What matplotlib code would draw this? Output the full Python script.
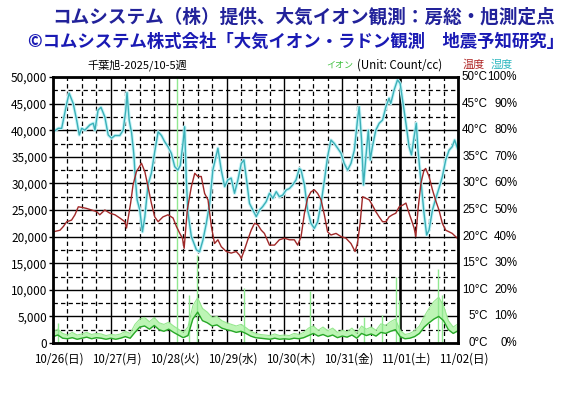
import numpy as np
import matplotlib
matplotlib.use("Agg")
import matplotlib.pyplot as plt
from matplotlib.transforms import ScaledTranslation

plt.rcParams['font.family'] = ['Noto Sans CJK JP', 'DejaVu Sans']

# ---------------- data ----------------
day_labels = ["10/26(日)", "10/27(月)", "10/28(火)", "10/29(水)", "10/30(木)",
              "10/31(金)", "11/01(土)", "11/02(日)"]

# humidity (%), time in hours from 10/26 00:00
hum_t = [0.1, 2.2, 3.6, 5.7, 6.7, 8.4, 9.8, 10.9, 11.9, 13.2, 15.3, 16.7, 17.4, 18.7, 19.9,
         21.5, 22.9, 24.3, 25.7, 27.7, 29.1, 30.2, 30.7, 31.6, 32.6, 33.5, 34.2, 34.9, 36.0,
         37.1, 38.1, 38.8, 39.4, 40.8, 42.2, 43.6, 45.0, 46.3, 47.7, 49.1, 50.5, 51.8, 52.8,
         53.9, 54.6, 55.3, 56.0, 57.4, 59.5, 60.8, 62.2, 63.6, 65.0, 66.3, 68.4, 69.8, 71.2,
         72.5, 73.9, 75.3, 76.7, 78.1, 79.2, 80.2, 81.5, 82.9, 84.3, 85.7, 87.0, 88.4, 89.8,
         91.2, 92.6, 93.9, 95.3, 96.7, 98.1, 99.4, 100.8, 102.2, 102.9, 104.3, 105.6, 107.0,
         108.4, 109.8, 111.2, 112.6, 113.9, 115.3, 116.7, 118.1, 119.5, 120.8, 122.2, 123.6,
         125.0, 126.3, 127.0, 128.0, 128.8, 129.8, 130.8, 131.6, 132.5, 133.9, 135.3, 136.7,
         138.1, 139.4, 140.1, 141.5, 142.9, 144.0, 145.0, 146.4, 147.7, 148.7, 149.8, 150.7,
         151.4, 152.6, 153.9, 155.0, 156.0, 157.4, 158.8, 160.1, 161.5, 162.9, 164.3, 165.6,
         166.6, 167.8]
hum_v = [79.4, 80.7, 80.7, 90.1, 93.9, 90.0, 83.8, 78.2, 80.7, 80.0, 82.0, 82.6, 80.0, 87.6, 88.6,
         85.0, 78.2, 77.0, 78.0, 78.0, 80.0, 87.6, 94.1, 83.8, 79.0, 71.3, 61.3, 53.8, 50.0,
         41.8, 47.5, 53.8, 59.4, 63.8, 71.9, 79.4, 78.0, 75.7, 73.8, 71.3, 66.3, 65.0, 66.8,
         75.0, 81.3, 61.3, 48.8, 40.0, 35.0, 34.3, 38.7, 45.0, 52.5, 65.0, 73.2, 65.0, 58.8,
         61.3, 62.0, 56.3, 61.3, 67.5, 68.8, 62.0, 52.5, 50.0, 47.5, 50.0, 51.3, 53.1, 56.3,
         54.4, 56.9, 55.0, 55.6, 57.5, 58.1, 59.4, 61.3, 65.6, 65.0, 59.4, 50.0, 45.0,
         43.1, 45.6, 52.5, 61.3, 70.0, 76.3, 75.0, 73.2, 71.3, 67.5, 65.0, 67.5,
         72.5, 83.8, 88.8, 76.3, 59.4, 70.0, 80.0, 68.8, 73.8, 80.0, 82.6, 83.8,
         88.8, 92.0, 90.0, 95.1, 98.9, 97.6, 91.3, 82.6, 73.8, 70.7, 77.6, 82.6,
         72.5, 61.3, 48.8, 40.6, 42.5, 50.0, 54.4, 58.1, 62.5, 68.8, 72.5, 73.8,
         76.3, 73.2]

# temperature (deg C)
temp_t = [0.1, 2.9, 4.3, 5.7, 7.7, 9.1, 10.5, 11.9, 13.9, 16.0, 18.1, 19.4, 21.5, 23.6, 25.7,
          27.7, 29.8, 30.5, 31.2, 32.2, 33.2, 34.6, 36.7, 38.1, 39.4, 40.8, 42.2, 43.6, 45.6,
          47.7, 49.8, 51.2, 52.6, 53.7, 54.4, 55.7, 57.4, 58.8, 60.1, 61.5, 62.9, 64.3, 65.7,
          67.0, 68.4, 69.8, 71.9, 73.9, 76.0, 77.4, 78.1, 79.4, 80.8, 82.2, 83.6, 85.0, 86.4,
          87.7, 89.8, 91.9, 93.9, 96.0, 98.1, 100.1, 101.5, 102.9, 104.3, 105.6, 107.0, 108.4,
          109.8, 111.2, 112.6, 113.9, 115.3, 117.4, 119.5, 121.5, 123.6, 125.3, 126.3, 127.4,
          128.4, 129.8, 131.2, 132.5, 133.9, 135.3, 136.7, 138.1, 139.4, 140.8, 142.2, 143.6,
          145.0, 146.4, 147.7, 148.7, 149.8, 150.5, 151.4, 152.6, 153.9, 154.6, 156.0, 157.4,
          158.8, 160.1, 161.5, 162.9, 164.3, 165.6, 167.0, 167.7]
temp_v = [20.9, 21.2, 21.9, 22.8, 23.1, 24.1, 25.6, 25.5, 25.3, 25.0, 24.7, 24.1, 25.0, 24.4, 24.1,
          23.5, 22.8, 21.6, 23.5, 26.3, 29.7, 32.2, 33.8, 32.2, 29.4, 26.3, 23.7, 22.8, 23.7,
          24.1, 23.5, 21.9, 20.6, 19.7, 17.8, 25.0, 29.4, 31.9, 31.3, 31.3, 28.1, 26.9, 21.9,
          18.7, 19.4, 18.1, 17.2, 16.9, 17.2, 16.5, 15.9, 17.5, 19.4, 21.2, 22.5, 22.2, 21.2,
          20.6, 18.4, 18.4, 19.4, 19.7, 19.4, 19.4, 18.4, 20.0, 24.4, 27.2, 28.4, 28.8,
          28.1, 26.9, 24.0, 20.9, 20.3, 20.6, 20.0, 19.7, 18.7, 17.2, 18.7, 22.5,
          27.5, 27.2, 26.9, 25.9, 24.7, 23.7, 22.8, 22.8, 23.7, 24.1, 24.4, 25.6,
          25.9, 26.3, 24.4, 23.1, 21.6, 20.0, 25.0, 30.0, 32.5, 32.8, 31.3, 28.8,
          26.7, 25.0, 22.5, 21.2, 20.9, 20.6, 20.0, 19.7]

# ions (count/cc), every 2 hours
ion_t = list(range(0, 169, 2))
ion_avg = [1200, 1500, 900, 800, 1000, 700, 900, 1100, 800, 1000, 900, 700, 900,
           700, 900, 1200, 900, 2000, 3000, 3200, 2600, 3300, 2500, 2200, 2600,
           2000, 1500, 1000, 1400, 4500, 5800, 4200, 3800, 3200, 3400, 2800, 2500,
           2300, 2000, 2200, 1800, 1300, 1000, 900, 800, 700, 900, 700, 800,
           700, 900, 800, 1000, 1400, 1800, 1300, 1600, 1200, 1500, 1000, 1300,
           1100, 1500, 900, 1800, 1400, 1700, 1300, 2000, 1800, 2200, 2500, 1200,
           800, 900, 1200, 1800, 3000, 3800, 4500, 5000, 4200, 2500, 1800, 2300]
ion_max = [2000, 2600, 1800, 1500, 2000, 1500, 1700, 2000, 1600, 1800, 1700, 1400, 1600,
           1500, 1700, 2200, 1800, 3500, 4500, 4800, 4000, 4800, 3800, 3500, 3900,
           3200, 2600, 2000, 3000, 7000, 8500, 6500, 5800, 4800, 5000, 4200, 3800,
           3500, 3200, 3500, 2900, 2200, 1800, 1600, 1500, 1400, 1700, 1400, 1500,
           1400, 1800, 1600, 2000, 2800, 3200, 2400, 3000, 2300, 2800, 2000, 2400,
           2100, 2800, 1800, 3200, 2600, 3000, 2400, 3600, 3300, 4000, 4500, 2400,
           1600, 1800, 2300, 3200, 5000, 6500, 7800, 8600, 7000, 4200, 3000, 3600]
spike_t = [2.1, 51.4, 56.3, 59.8, 79.2, 106.8, 129.0, 136.6, 142.2, 143.6, 159.7, 161.4]
spike_v = [3700, 50000, 9000, 16500, 10300, 9700, 4900, 5200, 12500, 8000, 14000, 9000]

# ---------------- figure ----------------
fig = plt.figure(figsize=(5.82, 3.95), dpi=100)
fig.patch.set_facecolor('white')
ax = fig.add_axes([53/582, 52/395, 405/582, 266/395])

ax.set_xlim(0, 168)
ax.set_ylim(0, 50000)

# grid
ax.set_yticks(np.arange(0, 50001, 5000))
ax.set_yticks(np.arange(2500, 50000, 5000), minor=True)
ax.set_xticks(np.arange(0, 169, 24))
ax.set_xticks([h for h in range(6, 168, 6) if h % 24 != 0], minor=True)
ax.grid(which='major', color='black', lw=1.0, ls='-')
ax.grid(which='minor', color='black', lw=0.9, ls=(0, (3.5, 2.5)))
ax.set_axisbelow(True)
ax.axvline(144, color='black', lw=1.8, zorder=1)

# ions
ion_t_a = np.array(ion_t)
ax.fill_between(ion_t_a, ion_avg, ion_max, color='#bdf5b5', lw=0, zorder=2)
ax.plot(ion_t_a, ion_max, color='#96e88e', lw=0.8, zorder=2)
ax.vlines(spike_t, 0, spike_v, color='#90e890', lw=1.0, zorder=2)
ax.plot(ion_t_a, ion_avg, color='#28a828', lw=1.0, zorder=3)

# humidity (scaled: 100% -> 50000)
hum_s = np.array(hum_v) * 500
ax.plot(hum_t, hum_s, color='#c4f4f8', lw=2.4, zorder=3, solid_joinstyle='round')
ax.plot(hum_t, hum_s, color='#3cb0b8', lw=1.0, zorder=4)

# temperature (scaled: 50C -> 50000)
temp_s = np.array(temp_v) * 1000
ax.plot(temp_t, temp_s, color='#a02828', lw=1.0, zorder=4)

# axes styling
for s in ax.spines.values():
    s.set_linewidth(2.0)
    s.set_color('black')
    s.set_zorder(6)
ax.set_yticklabels([f"{v:,}" for v in range(0, 50001, 5000)])
ax.tick_params(axis='y', which='major', length=3, width=1, pad=1, labelsize=8.5, direction='out')
ax.tick_params(which='minor', length=0)
ax.set_xticklabels(day_labels)
ax.tick_params(axis='x', which='major', length=0, pad=7, labelsize=8.3)
for lbl in ax.get_xticklabels():
    lbl.set_transform(lbl.get_transform() + ScaledTranslation(6/100, 0, fig.dpi_scale_trans))

# right-hand labels
ytr = ax.get_yaxis_transform()
for i in range(0, 11):
    ax.text(1.074, i * 5000, f"{i*5}°C", transform=ytr, ha='right', va='center',
            fontsize=8.3, family=['Liberation Sans', 'DejaVu Sans'])
    ax.text(1.146, i * 5000, f"{i*10}%", transform=ytr, ha='right', va='center',
            fontsize=8.3, family=['Liberation Sans', 'DejaVu Sans'])

# titles
fig.text(0.5215, 0.957, "コムシステム（株）提供、大気イオン観測：房総・旭測定点",
         ha='center', va='center', fontsize=13.4, fontweight='bold', color='#22229a')
fig.text(0.509, 0.894, "©コムシステム株式会社「大気イオン・ラドン観測　地震予知研究」",
         ha='center', va='center', fontsize=12.5, fontweight='bold', color='#1a1ab4')

# sub header
fig.text(87/582, 1 - 65/395, "千葉旭-2025/10-5週", ha='left', va='center', fontsize=8)
fig.text(326/582, 1 - 65/395, "イオン", ha='left', va='center', fontsize=6.5, color='#40c040')
fig.text(357/582, 1 - 65/395, "(Unit: Count/cc)", ha='left', va='center', fontsize=8.3)
fig.text(463/582, 1 - 65/395, "温度", ha='left', va='center', fontsize=8, color='#b02828')
fig.text(491/582, 1 - 65/395, "湿度", ha='left', va='center', fontsize=8, color='#30b8c0')

fig.savefig("out.png", dpi=100)
